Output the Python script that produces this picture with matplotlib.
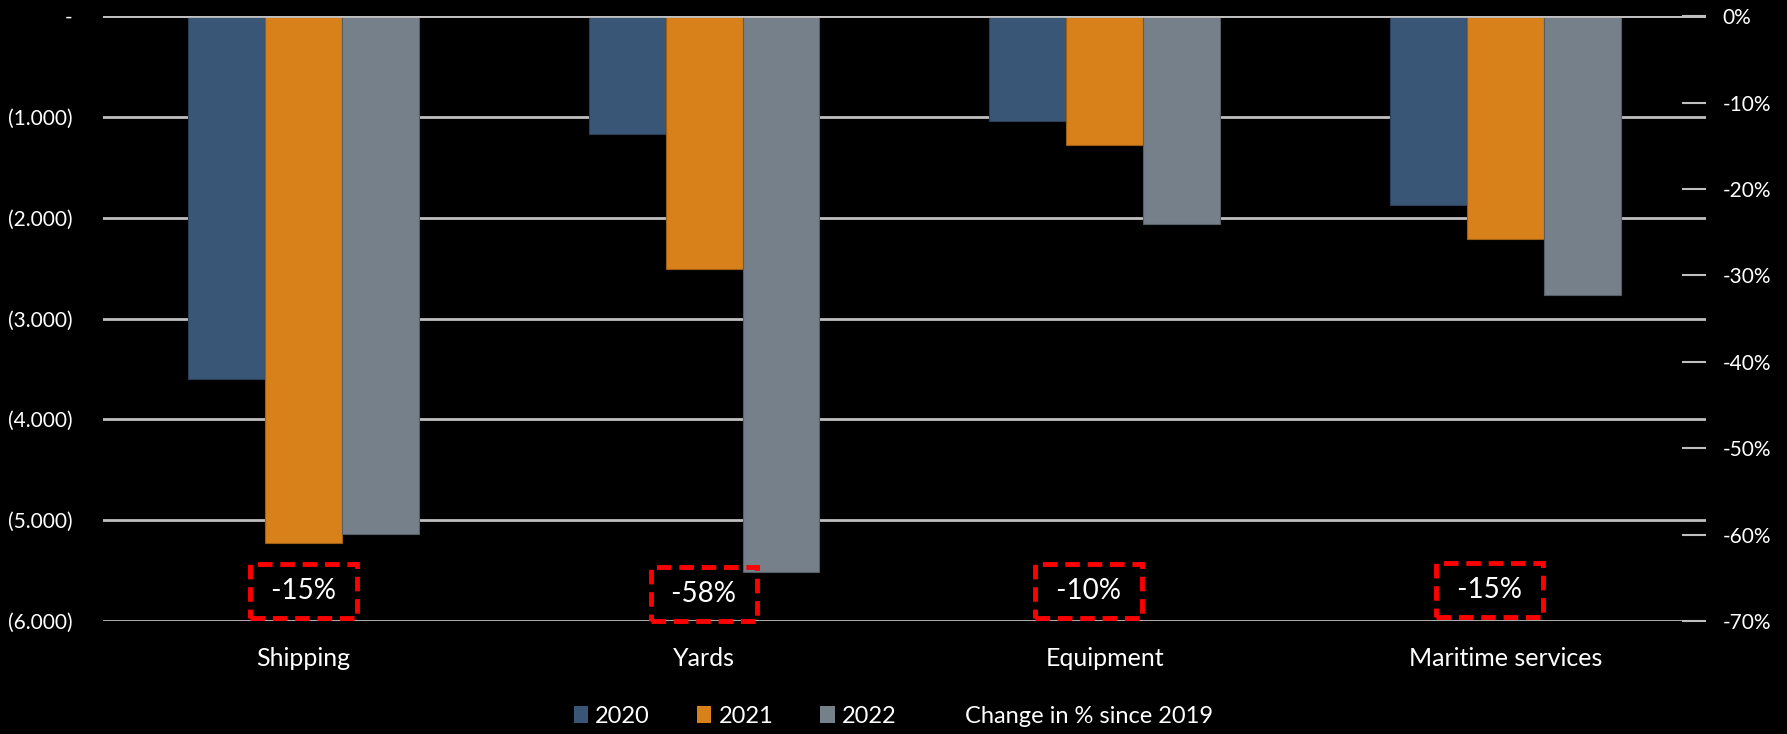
import matplotlib.pyplot as plt
from matplotlib.patches import Patch
import numpy as np

categories = ['Shipping', 'Yards', 'Equipment', 'Maritime services']
years = ['2020', '2021', '2022']
v2020 = [-3600, -1170, -1040, -1870]
v2021 = [-5230, -2510, -1280, -2210]
v2022 = [-5140, -5510, -2060, -2770]
change_labels = ['-15%', '-58%', '-10%', '-15%']
change_y = [-5700, -5730, -5700, -5690]
change_dx = [0.0, 0.0, -0.04, -0.04]

colors = ['#3A5676', '#D8801A', '#76808A']
edges = ['#2A3F57', '#9E5E14', '#565E66']
grid_c = '#BFBFBF'

plt.rcParams['font.family'] = ['Lato', 'DejaVu Sans']

fig = plt.figure(figsize=(17.87, 7.34), dpi=100, facecolor='black')
ax = fig.add_axes([0.0576, 0.154, 0.897, 0.824], facecolor='black')

x = np.arange(len(categories))
w = 0.192
for i, vals in enumerate([v2020, v2021, v2022]):
    ax.bar(x + (i - 1) * w, vals, w, color=colors[i], edgecolor=edges[i],
           linewidth=0.8, zorder=2, label=years[i])

ax.set_xlim(-0.5, len(categories) - 0.5)
ax.set_ylim(-6000, 0)
ax.set_yticks(np.arange(-6000, 1, 1000))
ax.set_yticklabels(['(%d.000)' % (-v // 1000) if v < 0 else '-' for v in np.arange(-6000, 1, 1000)])
ax.yaxis.grid(True, color=grid_c, linewidth=2, zorder=1)
ax.axhline(0, color=grid_c, linewidth=2, zorder=3)
ax.set_xticks(x)
ax.set_xticklabels(categories)
ax.tick_params(axis='x', length=0, pad=19, colors='white', labelsize=18)
ax.tick_params(axis='y', length=0, pad=22, colors='white', labelsize=15)
for s in ax.spines.values():
    s.set_visible(False)

ax2 = ax.twinx()
ax2.set_ylim(-0.70, 0)
pct = np.arange(-7, 1) / 10
ax2.set_yticks(pct)
ax2.set_yticklabels(['%d%%' % round(p * 100) for p in pct])
ax2.tick_params(axis='y', direction='in', length=17, width=1.5, color=grid_c,
                pad=12, colors='white', labelsize=15)
ax2.tick_params(axis='y', color=grid_c)
for s in ax2.spines.values():
    s.set_visible(False)

for i, lab in enumerate(change_labels):
    ax.text(x[i] + change_dx[i], change_y[i], ' ' + lab + ' ', color='white', fontsize=20,
            ha='center', va='center', zorder=5,
            bbox=dict(boxstyle='square,pad=0.5', fc='none', ec='#FF0000',
                      lw=3.5, ls=(0, (3, 1.6))))

handles = [Patch(facecolor=c, edgecolor='none') for c in colors]
handles.append(Patch(facecolor='none', edgecolor='none'))
labels = years + ['Change in % since 2019']
fig.legend(handles, labels, loc='center', bbox_to_anchor=(0.5, 0.024), ncol=4,
           frameon=False, fontsize=17, labelcolor='white', handlelength=0.6,
           handleheight=0.7, handletextpad=0.3, columnspacing=2.0)

fig.savefig('out.png', dpi=100, facecolor='black')
